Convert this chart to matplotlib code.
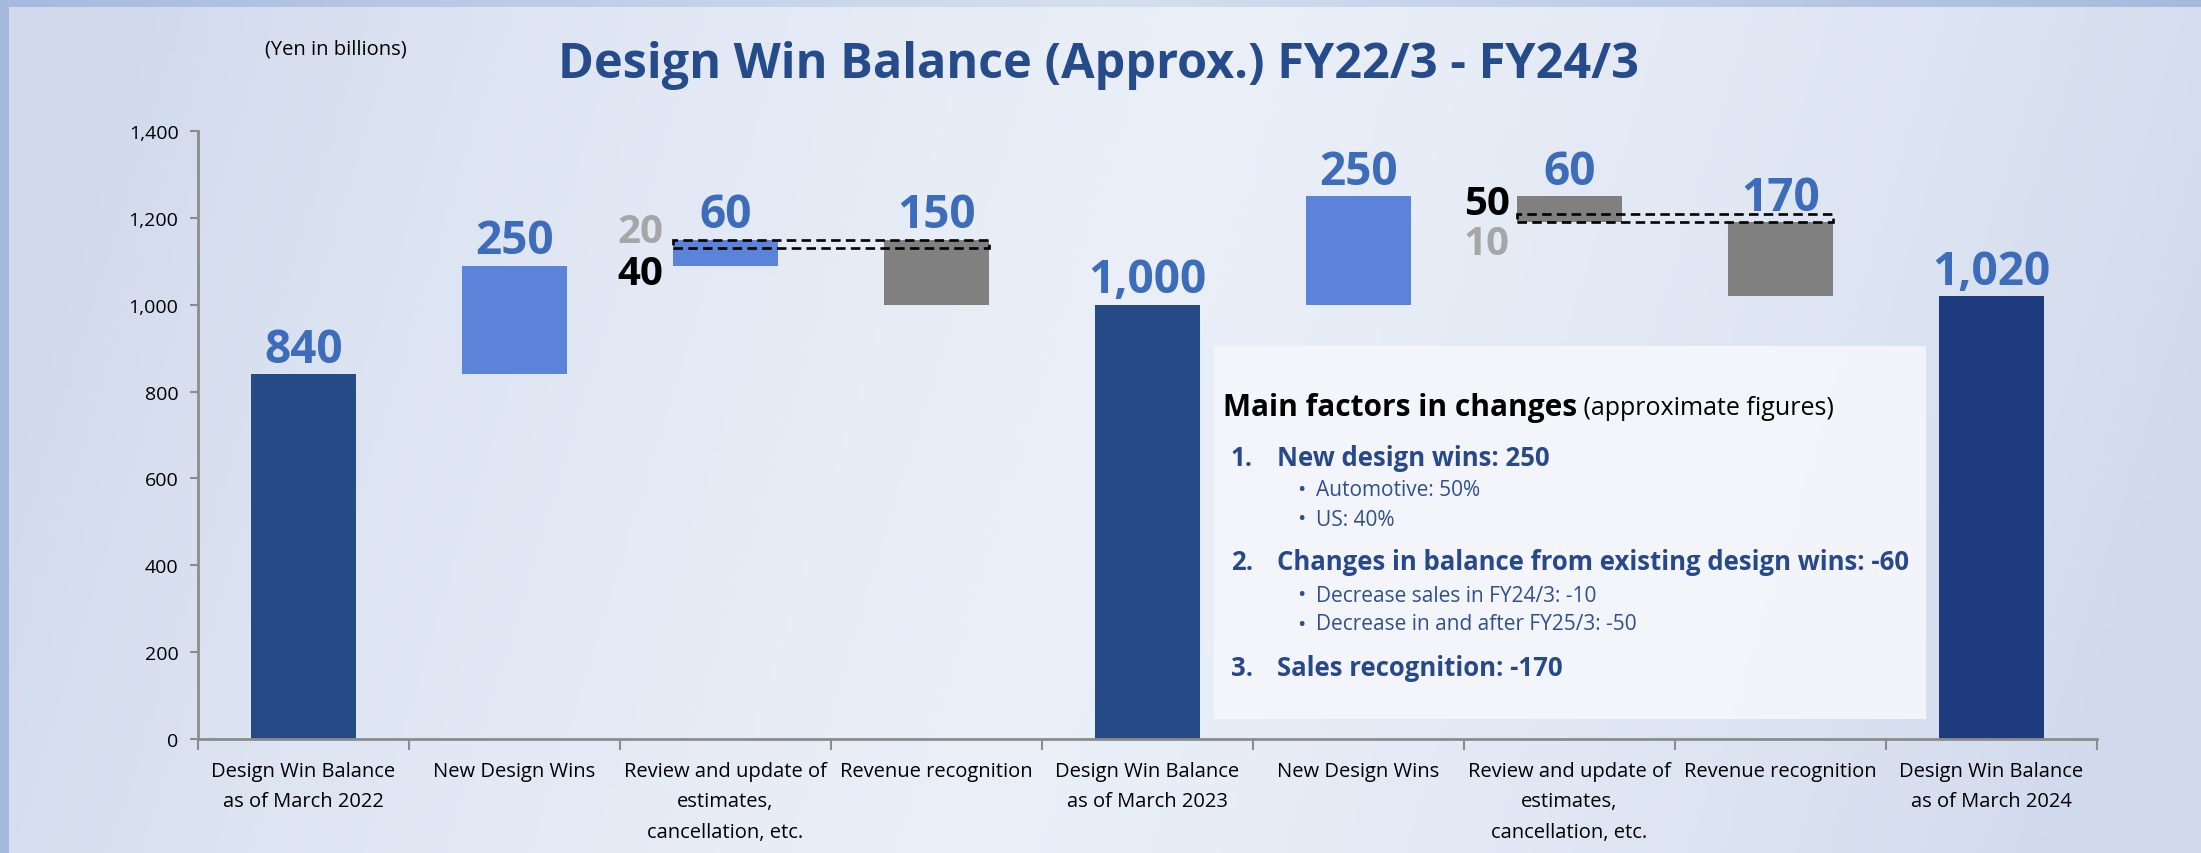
import numpy as np
import matplotlib
matplotlib.use("Agg")
import matplotlib.pyplot as plt
from matplotlib.patches import Rectangle

plt.rcParams['font.family'] = ['Open Sans', 'DejaVu Sans']

# data
categories = ["Design Win Balance\nas of March 2022", "New Design Wins",
              "Review and update of\nestimates,\ncancellation, etc.", "Revenue recognition",
              "Design Win Balance\nas of March 2023", "New Design Wins",
              "Review and update of\nestimates,\ncancellation, etc.", "Revenue recognition",
              "Design Win Balance\nas of March 2024"]
kinds = ["total", "inc", "inc", "dec", "total", "inc", "dec", "dec", "total"]
values = [840, 250, 60, 150, 1000, 250, 60, 170, 1020]
yticks = [0, 200, 400, 600, 800, 1000, 1200, 1400]

# split of the review step: (grey part, black part), and the dashed band
review_idx = [2, 6]
review_split = [(20, 40), (10, 50)]
band_low = [1130, 1190]
band_high = [1150, 1210]

box_title = "Main factors in changes"
box_sub = " (approximate figures)"
box_items = [("1.", "New design wins: 250", ["Automotive: 50%", "US: 40%"]),
             ("2.", "Changes in balance from existing design wins: -60",
              ["Decrease sales in FY24/3: -10", "Decrease in and after FY25/3: -50"]),
             ("3.", "Sales recognition: -170", [])]

W, H = 2201, 854
fig = plt.figure(figsize=(W / 100, H / 100), dpi=100)


def px(x, y):
    return x / W, 1 - y / H


# background gradient
bg = fig.add_axes([0, 0, 1, 1], zorder=-5)
xx, yy = np.meshgrid(np.linspace(0, 1, 400), np.linspace(0, 1, 160))
d = np.abs(xx - 0.5 + 0.12 * (yy - 0.5)) * 2
f = np.clip(1 - d ** 1.6, 0, 1)
edge = np.array([0.82, 0.855, 0.93])
mid = np.array([0.915, 0.935, 0.97])
img = edge[None, None, :] * (1 - f[..., None]) + mid[None, None, :] * f[..., None]
bg.imshow(img, aspect='auto', extent=[0, 1, 0, 1], origin='upper')
# frame bands
tb = np.abs(np.linspace(0, 1, 400) - 0.5) * 2
band_edge = np.array([0.65, 0.73, 0.87])
band_mid = np.array([0.84, 0.875, 0.94])
band = band_edge[None, :] * tb[:, None] + band_mid[None, :] * (1 - tb[:, None])
bg.imshow(band[None, :, :], aspect='auto', extent=[0, 1, 1 - 8 / H, 1])
bg.add_patch(Rectangle((0, 0), 9 / W, 1, color=band_edge, lw=0))
bg.set_xlim(0, 1)
bg.set_ylim(0, 1)
bg.axis('off')

ax = fig.add_axes([198 / W, 1 - 740 / H, (2097 - 198) / W, (740 - 132) / H])
ax.set_facecolor('none')

colors = {"total": "#264a86", "inc": "#5a83d9", "dec": "#808080"}
label_col = "#3d6cbb"
x = np.arange(len(values))
level = 0
for i, (k, v) in enumerate(zip(kinds, values)):
    if k == "total":
        b, t = 0, v
        level = v
    elif k == "inc":
        b, t = level, level + v
        level = t
    else:
        b, t = level - v, level
        level = b
    c = colors[k]
    if i == len(values) - 1:
        c = "#1e3b7f"
    ax.bar(i, t - b, bottom=b, width=0.5, color=c, zorder=2)
    ax.annotate(f"{v:,}", (i, t), xytext=(0, 1), textcoords='offset points',
                ha='center', va='bottom', fontsize=33, fontweight='bold', color=label_col, zorder=4)

for j, idx in enumerate(review_idx):
    x0 = idx - 0.25
    ax.add_patch(Rectangle((x0, band_low[j]), 1.5, band_high[j] - band_low[j], fill=False,
                           ec='black', lw=1.9, ls=(0, (3.6, 2)), zorder=5))
    grey, black = review_split[j]
    if kinds[idx] == "inc":
        ax.annotate(str(grey), (x0, band_high[j]), xytext=(-7, -8), textcoords='offset points',
                    ha='right', va='bottom', fontsize=29, fontweight='bold', color='#a6a6a6')
        ax.annotate(str(black), (x0, band_low[j]), xytext=(-7, -4), textcoords='offset points',
                    ha='right', va='top', fontsize=29, fontweight='bold', color='black')
    else:
        ax.annotate(str(black), (x0, band_high[j]), xytext=(-5, -7), textcoords='offset points',
                    ha='right', va='bottom', fontsize=29, fontweight='bold', color='black')
        ax.annotate(str(grey), (x0, band_low[j]), xytext=(-5, -1), textcoords='offset points',
                    ha='right', va='top', fontsize=29, fontweight='bold', color='#a6a6a6')

ax.set_xlim(-0.5, len(values) - 0.5)
ax.set_ylim(0, 1400)
ax.set_yticks(yticks)
ax.set_yticklabels([f"{t:,}" for t in yticks], fontsize=14)
ax.set_xticks(x)
ax.set_xticklabels(categories, fontsize=14.5, linespacing=1.68, va='top')
ax.set_xticks(np.arange(len(values) + 1) - 0.5, minor=True)
ax.tick_params(axis='x', which='major', length=0, pad=16)
ax.tick_params(axis='x', which='minor', length=8, width=1.5, color='#8c8c8c', direction='out')
ax.tick_params(axis='y', length=6, width=1.5, color='#8c8c8c', pad=8)
for s in ['top', 'right']:
    ax.spines[s].set_visible(False)
for s in ['left', 'bottom']:
    ax.spines[s].set_color('#8c8c8c')
    ax.spines[s].set_linewidth(2)

# titles
fig.text(*px(1098, 66), "Design Win Balance (Approx.) FY22/3 - FY24/3", ha='center', va='center',
         fontsize=35, fontweight='bold', color='#264b8a')
fig.text(*px(265, 49), "(Yen in billions)", ha='left', va='center', fontsize=14.5, color='black')

# text box
fig.patches.append(Rectangle(px(1214, 720), 712 / W, 373 / H, transform=fig.transFigure,
                             facecolor='#f4f6fb', edgecolor='none', alpha=0.95, zorder=1))
t1 = fig.text(*px(1223, 408), box_title, ha='left', va='center', fontsize=21.5,
              fontweight='bold', color='black')
fig.canvas.draw()
bb = t1.get_window_extent()
fig.text(bb.x1 / W, 1 - 409 / H, box_sub, ha='left', va='center', fontsize=18, color='black')

item_y = [458, 563, 669]
sub_step = 29
navy = '#27498a'
for (num, head, subs), yy0 in zip(box_items, item_y):
    fig.text(*px(1231, yy0), num, ha='left', va='center', fontsize=18.5, fontweight='bold', color=navy)
    fig.text(*px(1277, yy0), head, ha='left', va='center', fontsize=18.5, fontweight='bold', color=navy)
    for k, s in enumerate(subs):
        yy1 = yy0 + 33 + k * sub_step
        fig.text(*px(1297, yy1), "\u2022", ha='left', va='center', fontsize=16, color='#2f4f8e')
        fig.text(*px(1316, yy1), s, ha='left', va='center', fontsize=15, color='#2f4f8e')

fig.savefig("out.png", dpi=100)
